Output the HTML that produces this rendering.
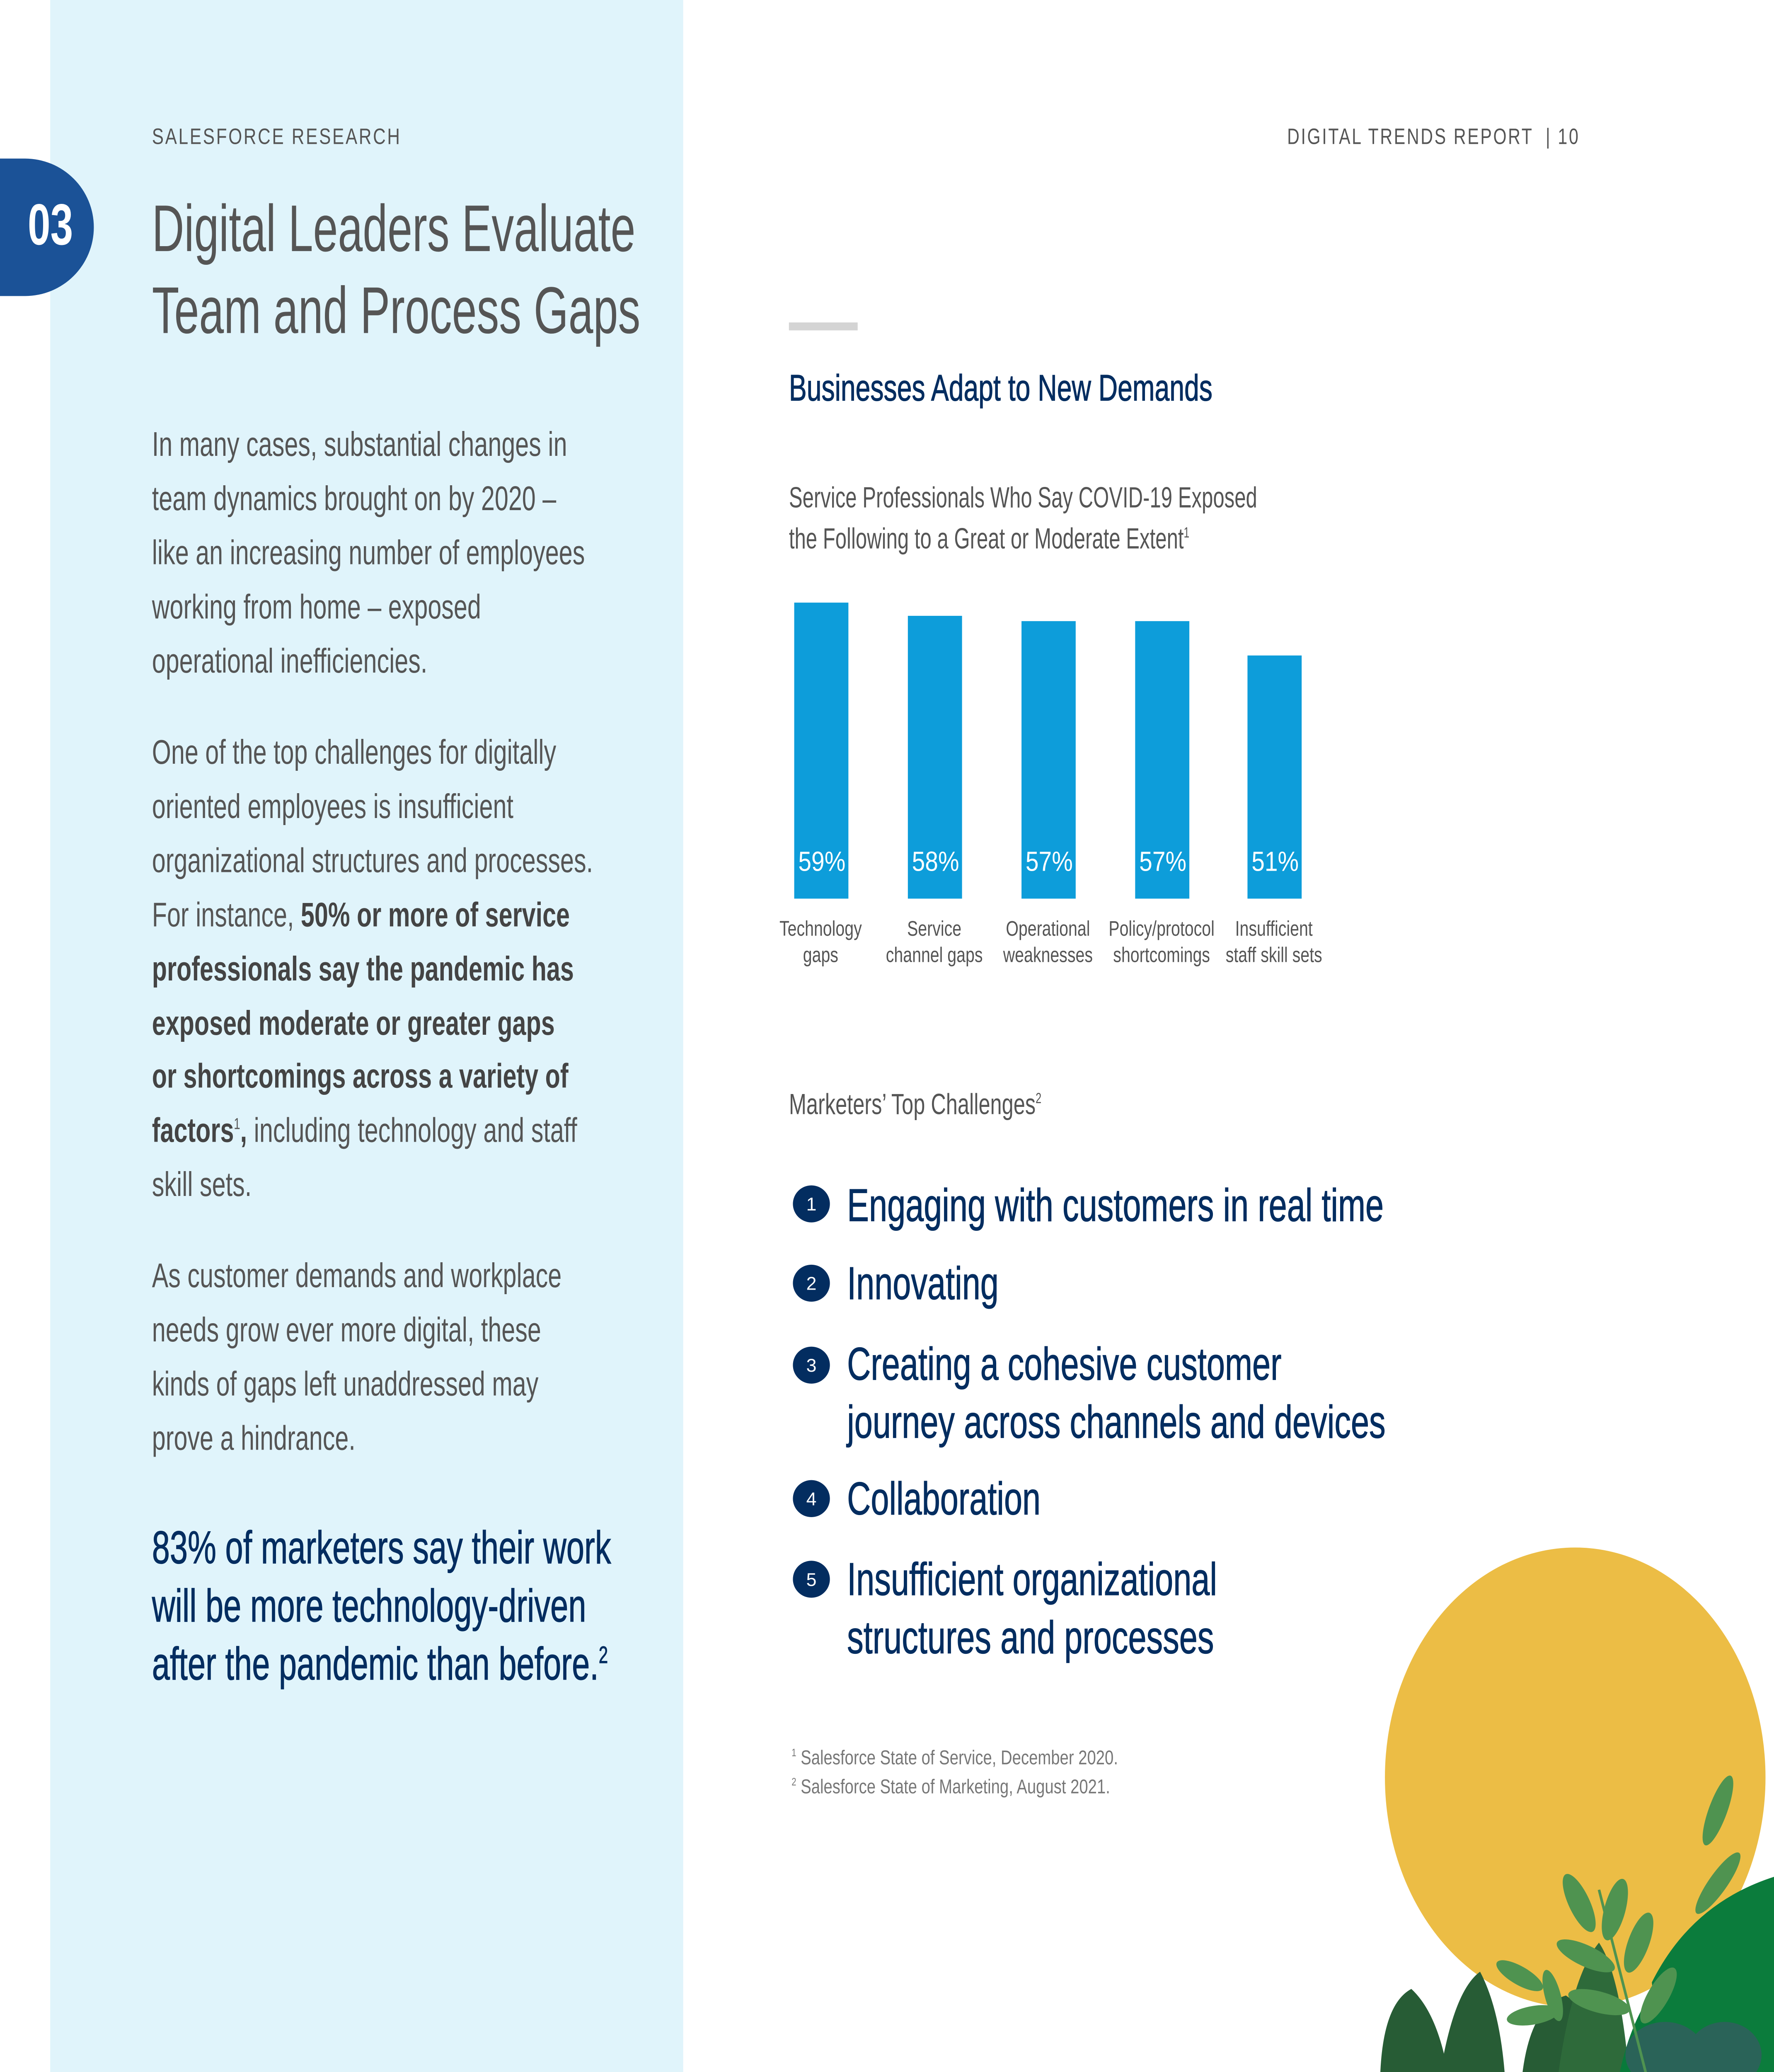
<!DOCTYPE html>
<html style="width:4281px;height:5120px;overflow:hidden"><head><meta charset="utf-8"><style>
html,body{margin:0;padding:0;background:#fff;}
body{width:4281px;height:5120px;overflow:hidden;position:relative;}
#s{position:absolute;left:0;top:0;width:1343px;height:1606px;overflow:hidden;transform:scale(3.189);transform-origin:0 0;font-family:"Liberation Sans",sans-serif;}
sup{line-height:0;}
.t{position:absolute;white-space:nowrap;transform-origin:0 0;transform:scaleX(0.78);}
.g{color:#555;}
.n{color:#032d60;}
.c{position:absolute;white-space:nowrap;text-align:center;width:120px;transform:scaleX(0.77);font-size:16px;line-height:20px;color:#555;}
.num{position:absolute;width:28px;height:28px;border-radius:50%;background:#032d60;color:#fff;font-size:14px;text-align:center;line-height:28px;left:600px;}
.bar{position:absolute;background:#0d9dda;width:41px;}
.pct{position:absolute;color:#fff;font-size:21px;top:641px;width:41px;text-align:center;transform:scaleX(0.85);}
.st{-webkit-text-stroke:0.4px #032d60;}
</style></head><body><div id="s">
<div style="position:absolute;left:38px;top:0;width:479px;height:1606px;background:#e0f4fb"></div>
<div style="position:absolute;left:0;top:120px;width:71px;height:104px;background:#1b5297;border-radius:0 52px 52px 0"></div>
<div class="t" style="left:21px;top:146px;font-size:44px;color:#fff;font-weight:bold;transform:scaleX(0.7)">03</div>
<div class="t g" style="left:115px;top:94px;font-size:17px;letter-spacing:1.5px;transform:scaleX(0.78)">SALESFORCE RESEARCH</div>
<div class="t g" style="left:115px;top:142px;font-size:50px;line-height:62px;transform:scaleX(0.675)">Digital Leaders Evaluate<br>Team and Process Gaps</div>
<div class="t g" style="left:115px;top:316px;font-size:26px;line-height:41px;transform:scaleX(0.715)">In many cases, substantial changes in<br>team dynamics brought on by 2020 –<br>like an increasing number of employees<br>working from home – exposed<br>operational inefficiencies.</div>
<div class="t g" style="left:115px;top:549px;font-size:26px;line-height:40.9px;transform:scaleX(0.715)">One of the top challenges for digitally<br>oriented employees is insufficient<br>organizational structures and processes.<br>For instance, <b style="color:#444">50% or more of service</b><br><b style="color:#444">professionals say the pandemic has</b><br><b style="color:#444">exposed moderate or greater gaps</b><br><b style="color:#444">or shortcomings across a variety of</b><br><b style="color:#444">factors</b><sup style="font-size:12px">1</sup><b style="color:#444">,</b> including technology and staff<br>skill sets.</div>
<div class="t g" style="left:115px;top:945px;font-size:26px;line-height:41px;transform:scaleX(0.715)">As customer demands and workplace<br>needs grow ever more digital, these<br>kinds of gaps left unaddressed may<br>prove a hindrance.</div>
<div class="t n st" style="left:115px;top:1150px;font-size:35px;line-height:44px;transform:scaleX(0.695)">83% of marketers say their work<br>will be more technology-driven<br>after the pandemic than before.<sup style="font-size:18px">2</sup></div>
<div class="t g" style="left:974px;top:94px;font-size:17px;letter-spacing:1.5px;transform:scaleX(0.76)">DIGITAL TRENDS REPORT &nbsp;| 10</div>
<div style="position:absolute;left:597px;top:244px;width:52px;height:6px;background:#d4d4d4"></div>
<div class="t n st" style="left:597px;top:278px;font-size:28px;transform:scaleX(0.72)">Businesses Adapt to New Demands</div>
<div class="t g" style="left:597px;top:361px;font-size:22px;line-height:31px;transform:scaleX(0.70)">Service Professionals Who Say COVID-19 Exposed<br>the Following to a Great or Moderate Extent<sup style="font-size:11px">1</sup></div>
<div class="bar" style="left:601px;top:456px;height:224px"></div>
<div class="bar" style="left:687px;top:466px;height:214px"></div>
<div class="bar" style="left:773px;top:470px;height:210px"></div>
<div class="bar" style="left:859px;top:470px;height:210px"></div>
<div class="bar" style="left:944px;top:496px;height:184px"></div>
<div class="pct" style="left:601px">59%</div><div class="pct" style="left:687px">58%</div><div class="pct" style="left:773px">57%</div><div class="pct" style="left:859px">57%</div><div class="pct" style="left:944px">51%</div>
<div class="c" style="left:561px;top:694px">Technology<br>gaps</div>
<div class="c" style="left:647px;top:694px">Service<br>channel gaps</div>
<div class="c" style="left:733px;top:694px">Operational<br>weaknesses</div>
<div class="c" style="left:819px;top:694px">Policy/protocol<br>shortcomings</div>
<div class="c" style="left:904px;top:694px">Insufficient<br>staff skill sets</div>
<div class="t g" style="left:597px;top:823px;font-size:22px;transform:scaleX(0.72)">Marketers’ Top Challenges<sup style="font-size:11px">2</sup></div>
<div class="num" style="top:897px">1</div><div class="num" style="top:957px">2</div><div class="num" style="top:1019px">3</div><div class="num" style="top:1120px">4</div><div class="num" style="top:1181px">5</div>
<div class="t n st" style="left:641px;top:893px;font-size:35px;transform:scaleX(0.71)">Engaging with customers in real time</div>
<div class="t n st" style="left:641px;top:952px;font-size:35px;transform:scaleX(0.71)">Innovating</div>
<div class="t n st" style="left:641px;top:1011px;font-size:35px;line-height:44px;transform:scaleX(0.71)">Creating a cohesive customer<br>journey across channels and devices</div>
<div class="t n st" style="left:641px;top:1115px;font-size:35px;transform:scaleX(0.71)">Collaboration</div>
<div class="t n st" style="left:641px;top:1174px;font-size:35px;line-height:44px;transform:scaleX(0.71)">Insufficient organizational<br>structures and processes</div>
<div class="t" style="left:599px;top:1320px;font-size:15px;line-height:22px;color:#777;transform:scaleX(0.8)"><sup style="font-size:8px">1</sup> Salesforce State of Service, December 2020.<br><sup style="font-size:8px">2</sup> Salesforce State of Marketing, August 2021.</div>
<svg style="position:absolute;left:0;top:0" width="1343" height="1606">
<ellipse cx="1192" cy="1345" rx="144" ry="174" fill="#ecbd45"/>
<g>
<path d="M1045 1606 Q1040 1520 1068 1505 Q1095 1530 1100 1606Z" fill="#275c35"/>
<path d="M1085 1606 Q1095 1510 1120 1492 Q1140 1530 1140 1606Z" fill="#275c35"/>
<path d="M1150 1606 Q1150 1520 1185 1510 Q1215 1530 1225 1606Z" fill="#275c35"/>
<path d="M1175 1606 Q1185 1500 1210 1470 Q1230 1500 1235 1606Z" fill="#2e6a3a"/>
<path d="M1220 1606 Q1230 1500 1290 1475 Q1343 1480 1343 1606Z" fill="#087a3a"/>
<path d="M1250 1500 Q1280 1440 1343 1420 L1343 1606 L1260 1606Z" fill="#0b7c3c"/>
<ellipse cx="1260" cy="1555" rx="30" ry="25" fill="#2a6358"/>
<ellipse cx="1305" cy="1555" rx="28" ry="25" fill="#2a6358"/>
<path d="M1210 1430 L1255 1606" stroke="#4f9350" stroke-width="2" fill="none"/>
<ellipse cx="1195" cy="1440" rx="8" ry="24" fill="#4f9350" transform="rotate(-25 1195 1440)"/>
<ellipse cx="1222" cy="1445" rx="8" ry="24" fill="#4f9350" transform="rotate(15 1222 1445)"/>
<ellipse cx="1200" cy="1480" rx="24" ry="8" fill="#4f9350" transform="rotate(25 1200 1480)"/>
<ellipse cx="1240" cy="1470" rx="8" ry="24" fill="#4f9350" transform="rotate(20 1240 1470)"/>
<ellipse cx="1210" cy="1515" rx="24" ry="8" fill="#4f9350" transform="rotate(15 1210 1515)"/>
<ellipse cx="1255" cy="1510" rx="8" ry="24" fill="#4f9350" transform="rotate(30 1255 1510)"/>
<ellipse cx="1150" cy="1495" rx="20" ry="7" fill="#4f9350" transform="rotate(30 1150 1495)"/>
<ellipse cx="1160" cy="1525" rx="20" ry="7" fill="#4f9350" transform="rotate(-10 1160 1525)"/>
<ellipse cx="1175" cy="1510" rx="6" ry="20" fill="#4f9350" transform="rotate(-15 1175 1510)"/>
<ellipse cx="1300" cy="1370" rx="7" ry="28" fill="#4f9350" transform="rotate(20 1300 1370)"/>
<ellipse cx="1300" cy="1425" rx="7" ry="28" fill="#4f9350" transform="rotate(35 1300 1425)"/>
</g>
</svg>
</div></body></html>
